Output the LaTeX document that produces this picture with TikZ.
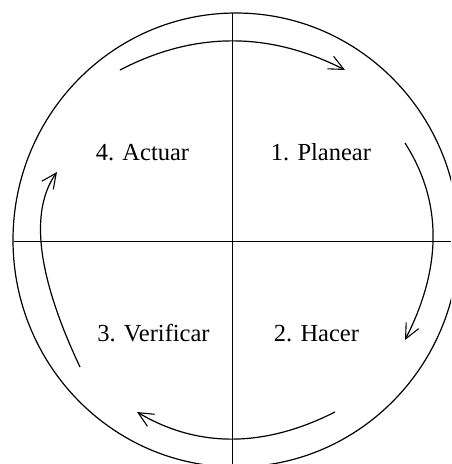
\documentclass[tikz,border=0pt]{standalone}
\usepackage{fontspec}
\setmainfont{Liberation Serif}
\usetikzlibrary{arrows.meta}
\begin{document}
\begin{tikzpicture}[x=1pt,y=-1pt,
  outline/.style={line width=1.2pt},
  axis/.style={line width=1pt},
  cyclearrow/.style={line width=1.2pt,-{Straight Barb[length=15pt,width=14pt,line width=1.1pt]}},
  label/.style={anchor=base,inner sep=0pt,font=\fontsize{24.5}{28}\selectfont}]
\useasboundingbox (0,0) rectangle (451,464);
\clip (0,0) rectangle (451,464);
\fill[white] (0,0) rectangle (451,464);
% outer circle
\coordinate (centre) at (236,240);
\draw[outline] (centre) ellipse [x radius=223, y radius=227];
% axes
\coordinate (top) at (232,13);
\coordinate (bottom) at (232,464);
\coordinate (left) at (14,241);
\coordinate (right) at (451,241);
\draw[axis] (top) -- (bottom);
\draw[axis] (left) -- (right);
% labels
\node[label] (act) at (142.5,160) {4. Actuar};
\node[label] (pla) at (321,160) {1. Planear};
\node[label] (ver) at (153.5,341) {3. Verificar};
\node[label] (hac) at (316.5,341) {2. Hacer};
% cycle arrow ends
\coordinate (t0) at (120,70);   \coordinate (t1) at (345,70);
\coordinate (r0) at (405,143);  \coordinate (r1) at (405,340);
\coordinate (b0) at (335,412);  \coordinate (b1) at (137,412);
\coordinate (l0) at (80,367);   \coordinate (l1) at (57,172);
% cycle arrows
\draw[cyclearrow] (t0) .. controls (194.3,31.3) and (269.3,31.3) .. (t1);
\draw[cyclearrow] (r0) .. controls (442.3,201.3) and (442.3,267) .. (r1);
\draw[cyclearrow] (b0) .. controls (263.7,448) and (197.7,448) .. (b1);
\draw[cyclearrow] (l0) .. controls (37,276) and (29.3,211) .. (l1);
\end{tikzpicture}
\end{document}
